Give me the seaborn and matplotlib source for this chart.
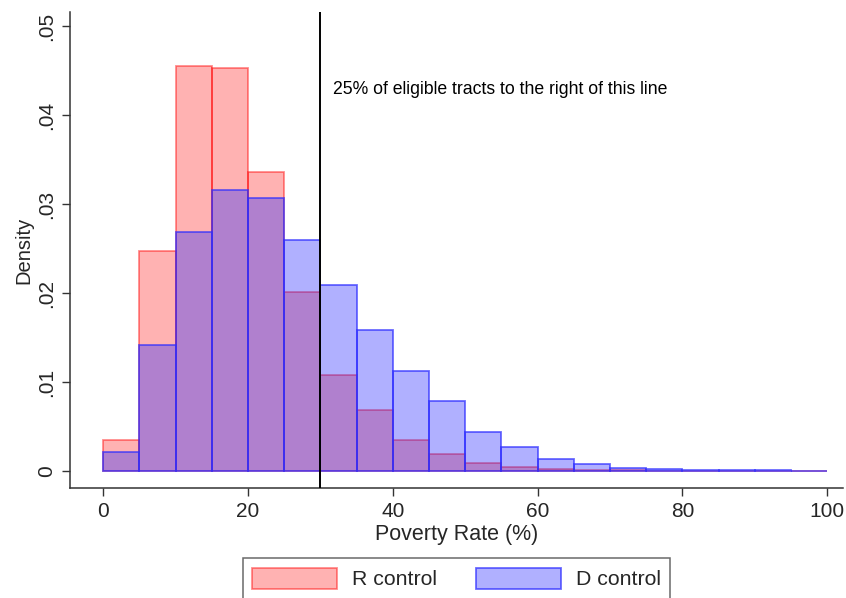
import numpy as np
import pandas as pd
import matplotlib
matplotlib.use("Agg")
import matplotlib.pyplot as plt
import seaborn as sns

# Histogram bins (poverty rate, %), width 5
bin_edges = list(range(0, 105, 5))
bin_centers = [e + 2.5 for e in bin_edges[:-1]]

# Density per bin for tracts with a Republican control
r_density = [0.0035, 0.0247, 0.0455, 0.0453, 0.0336, 0.0201, 0.0108, 0.0069,
             0.0035, 0.0019, 0.0009, 0.0005, 0.00026, 0.0001, 0.0001, 0.00005,
             0.00005, 0.00005, 0.0, 0.00005]
# Density per bin for tracts with a Democratic control
d_density = [0.0022, 0.0142, 0.0269, 0.0316, 0.0307, 0.0260, 0.0209, 0.0159,
             0.0113, 0.0079, 0.0044, 0.0027, 0.00135, 0.00075, 0.0004, 0.0002,
             0.0001, 0.00008, 0.00008, 0.00005]

x_ticks = [0, 20, 40, 60, 80, 100]
y_ticks = [0, 0.01, 0.02, 0.03, 0.04, 0.05]
y_tick_labels = ["0", ".01", ".02", ".03", ".04", ".05"]
cutoff = 30
note = "25% of eligible tracts to the right of this line"

df = pd.DataFrame({
    "rate": bin_centers * 2,
    "density": r_density + d_density,
    "group": ["R control"] * len(r_density) + ["D control"] * len(d_density),
})

sns.set_style("ticks")
plt.rcParams["font.family"] = ["Liberation Sans", "DejaVu Sans"]

W, H = 846, 598
fig = plt.figure(figsize=(W / 100, H / 100), dpi=100)
ax = fig.add_axes([70 / W, 1 - 488 / H, (843 - 70) / W, (488 - 12) / H])

styles = {
    "R control": dict(facecolor=(1.0, 0.0, 0.0, 0.30), edgecolor=(1.0, 0.0, 0.0, 0.45)),
    "D control": dict(facecolor=(45 / 255, 45 / 255, 1.0, 0.377), edgecolor=(45 / 255, 45 / 255, 1.0, 0.70)),
}
for grp in ["R control", "D control"]:
    sub = df[df["group"] == grp]
    sns.histplot(data=sub, x="rate", weights="density", bins=bin_edges,
                 stat="count", ax=ax, label=grp, linewidth=1.3,
                 **styles[grp])

ax.axvline(cutoff, color="black", lw=1.4, zorder=5)
ax.text(31.7, 0.0429, note, fontsize=12.7, va="center", ha="left", color="black")

ax.set_xlim(-4.6, 102.2)
ax.set_ylim(-0.0019, 0.0516)
ax.set_xticks(x_ticks)
ax.set_yticks(y_ticks)
ax.set_yticklabels(y_tick_labels, rotation=90, va="center")
ax.set_xlabel("Poverty Rate (%)", fontsize=15.5, labelpad=2)
ax.set_ylabel("Density", fontsize=14.5, labelpad=3)
ax.tick_params(axis="both", labelsize=15, length=6, width=1.0, color="#333333",
               pad=4)
for s in ["top", "right"]:
    ax.spines[s].set_visible(False)
for s in ["left", "bottom"]:
    ax.spines[s].set_linewidth(1.1)
    ax.spines[s].set_color("#333333")

handles, labels = ax.get_legend_handles_labels()
leg = fig.legend(handles, labels, loc="upper center",
                 bbox_to_anchor=(456.5 / W, 1 - 558 / H), ncol=2,
                 fontsize=15.3, frameon=True, fancybox=False,
                 handlelength=4.0, handleheight=1.15, handletextpad=0.72,
                 columnspacing=1.8, borderpad=0.45, borderaxespad=0.0,
                 edgecolor="#444444")
leg.get_frame().set_linewidth(1.1)

fig.savefig("out.png", dpi=100, facecolor="white")
